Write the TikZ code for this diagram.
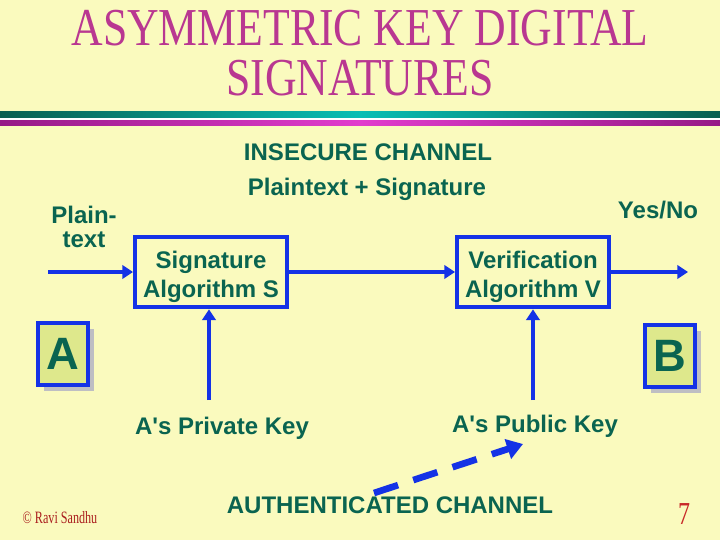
\documentclass[tikz,border=0pt]{standalone}
\usepackage{fontspec}
\setmainfont{Liberation Serif}
\setsansfont{Liberation Sans}
\usepackage{xcolor}
\usetikzlibrary{positioning,arrows.meta,shadows}
\definecolor{slidebg}{RGB}{250,250,190}
\definecolor{titlecol}{RGB}{185,55,145}
\definecolor{txtgreen}{RGB}{10,100,80}
\definecolor{linkblue}{RGB}{20,50,230}
\definecolor{tealdark}{RGB}{10,95,80}
\definecolor{teallight}{RGB}{10,190,180}
\definecolor{magdark}{RGB}{150,25,135}
\definecolor{maglight}{RGB}{225,60,205}
\definecolor{partybox}{RGB}{222,232,140}
\definecolor{shadowgray}{RGB}{190,190,195}
\definecolor{footred}{RGB}{170,30,30}
\definecolor{pagered}{RGB}{200,40,40}

\begin{document}
\begin{tikzpicture}[x=0.75pt,y=-0.75pt,
lbl/.style={text=txtgreen,font=\sffamily\bfseries\fontsize{18}{22}\selectfont,align=center,inner sep=1pt},
algo/.style={draw=linkblue,line width=3pt,minimum width=114pt,minimum height=53pt},
party/.style={draw=linkblue,line width=3pt,fill=partybox,text=txtgreen,font=\sffamily\bfseries\fontsize{34}{34}\selectfont,minimum width=37pt,minimum height=46pt,inner sep=0pt,
  drop shadow={shadow xshift=4.5pt,shadow yshift=-4.5pt,fill=shadowgray,opacity=1}},
arr/.style={draw=linkblue,line width=3pt,-{Triangle[length=8pt,width=10pt]}},
titletext/.style={text=titlecol,font=\fontsize{40}{48}\selectfont,inner sep=0pt}]
\fill[slidebg] (0,0) rectangle (720,540);
\useasboundingbox (0,0) rectangle (720,540);
% title and rule
\node[titletext] (title1) at (360,28) {\scalebox{0.82}[1]{ASYMMETRIC KEY DIGITAL}};
\node[titletext] (title2) at (360,78) {\scalebox{0.82}[1]{SIGNATURES}};
\shade[left color=tealdark,right color=tealdark,middle color=teallight] (0,111) rectangle (720,118);
\fill[white] (0,118) rectangle (720,120);
\shade[left color=magdark,right color=magdark,middle color=maglight] (0,120) rectangle (720,125);
% labels
\node[lbl] (insec) at (368,152) {INSECURE CHANNEL};
\node[lbl] (pltsig) at (367,189) {Plaintext + Signature};
\node[lbl,font=\sffamily\bfseries\fontsize{18}{18}\selectfont] (plain) at (84,227) {Plain-\\text};
\node[lbl] (yesno) at (658,210) {Yes/No};
% algorithms
\node[algo] (sig) at (211,272) {};
\node[lbl] (sigtext) at (211,277) {Signature\\Algorithm S};
\node[algo] (ver) at (533,272) {};
\node[lbl] (vertext) at (533,277) {Verification\\Algorithm V};
% parties
\node[party] (pa) at (63,354) {A};
\node[party] (pb) at (670,356) {B};
% keys
\node[lbl] (priv) at (222,428) {A\textquotesingle s Private Key};
\node[lbl] (pub) at (535,426) {A\textquotesingle s Public Key};
\node[lbl] (auth) at (390,505) {AUTHENTICATED CHANNEL};
% footer
\node[text=footred,font=\fontsize{13}{13}\selectfont] (credit) at (60,518) {\scalebox{0.7}[1]{\textcopyright{} Ravi Sandhu}};
\node[text=pagered,font=\fontsize{24}{24}\selectfont] (pageno) at (684,514) {\scalebox{0.75}[1]{7}};
% connectors
\coordinate (ptin) at (48,272);
\coordinate (ynout) at (688,272);
\coordinate (privtail) at (209,400);
\coordinate (pubtail) at (533,400);
\coordinate (authtail) at (374,493);
\coordinate (authtip) at (523,444);
\draw[arr] (ptin) -- (sig);
\draw[arr] (sig) -- (ver);
\draw[arr] (ver) -- (ynout);
\draw[arr] (privtail) -- (privtail |- sig.south);
\draw[arr] (pubtail) -- (pubtail |- ver.south);
\draw[arr,line width=5pt,dash pattern=on 19pt off 12pt,-{Triangle[length=12pt,width=15pt]}] (authtail) -- (authtip);
\end{tikzpicture}
\end{document}
